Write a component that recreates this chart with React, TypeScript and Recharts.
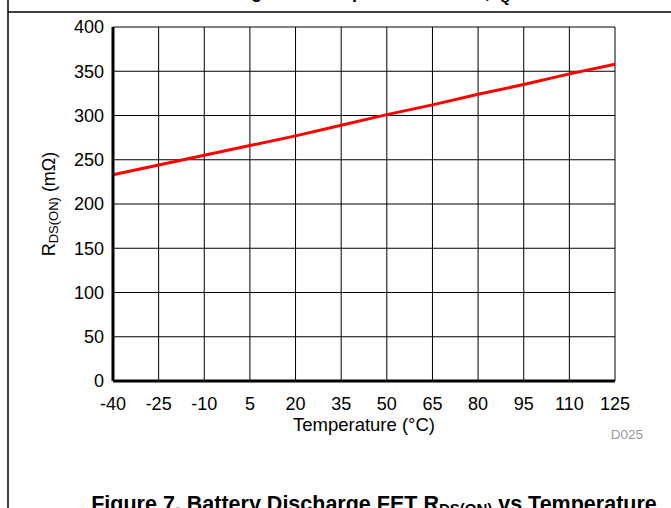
import React from 'react';
import { LineChart, Line, XAxis, YAxis, CartesianGrid } from 'recharts';

const temperatures = [-40, -25, -10, 5, 20, 35, 50, 65, 80, 95, 110, 125];
const rdsOn = [233, 244, 255, 266, 277, 289, 301, 312, 324, 335, 347, 358];
const xTicks = [-40, -25, -10, 5, 20, 35, 50, 65, 80, 95, 110, 125];
const yTicks = [0, 50, 100, 150, 200, 250, 300, 350, 400];

const data = temperatures.map((t, i) => ({ t, r: rdsOn[i] }));

const FONT = '"Liberation Sans", Arial, Helvetica, sans-serif';

const XLabel = (props: any) => {
  const vb = props.viewBox || {};
  const cx = vb.x + vb.width / 2;
  return (
    <g>
      <text x={cx} y={vb.y + 50} textAnchor="middle" fontSize={18.5} fill="#000" fontFamily={FONT}>
        Temperature (°C)
      </text>
      <text x={vb.x + vb.width + 12} y={vb.y + 58} textAnchor="middle" fontSize={13.5} fill="#999" fontFamily={FONT}>
        D025
      </text>
    </g>
  );
};

const YLabel = (props: any) => {
  const vb = props.viewBox || {};
  const cx = vb.x - 4;
  const cy = vb.y + vb.height / 2;
  return (
    <text
      x={cx}
      y={cy}
      textAnchor="middle"
      dominantBaseline="central"
      transform={`rotate(-90, ${cx}, ${cy})`}
      fontSize={18}
      fill="#000"
      fontFamily={FONT}
    >
      R<tspan fontSize={13} dy={4}>DS(ON)</tspan>
      <tspan dy={-4} fontSize={18}> (mΩ)</tspan>
    </text>
  );
};

export default function App() {
  return (
    <div style={{ position: 'absolute', left: 0, top: 0, width: 671, height: 508, overflow: 'hidden', fontFamily: FONT, background: '#fff' }}>
      <LineChart width={671} height={508} data={data} margin={{ top: 27, right: 56, bottom: 87, left: 53 }}>
        <CartesianGrid stroke="#000" strokeWidth={1} />
        <XAxis
          dataKey="t"
          type="number"
          domain={[-40, 125]}
          ticks={xTicks}
          interval={0}
          height={40}
          tickLine={false}
          tickMargin={10}
          tick={{ fontSize: 18, fill: '#000', fontFamily: FONT }}
          axisLine={{ stroke: '#000', strokeWidth: 3 }}
          label={<XLabel />}
        />
        <XAxis
          xAxisId="top"
          orientation="top"
          dataKey="t"
          type="number"
          domain={[-40, 125]}
          height={0}
          tick={false}
          tickLine={false}
          axisLine={{ stroke: '#333', strokeWidth: 2.5 }}
        />
        <YAxis
          type="number"
          domain={[0, 400]}
          ticks={yTicks}
          interval={0}
          width={60}
          tickLine={false}
          tickMargin={3}
          tick={{ fontSize: 18, fill: '#000', fontFamily: FONT }}
          axisLine={{ stroke: '#000', strokeWidth: 3 }}
          label={<YLabel />}
        />
        <YAxis
          yAxisId="right"
          orientation="right"
          type="number"
          domain={[0, 400]}
          width={0}
          tick={false}
          tickLine={false}
          axisLine={{ stroke: '#000', strokeWidth: 3 }}
        />
        <Line
          type="linear"
          dataKey="r"
          stroke="#ff0000"
          strokeWidth={3}
          dot={false}
          isAnimationActive={false}
        />
      </LineChart>
      <svg
        width={671}
        height={508}
        style={{ position: 'absolute', left: 0, top: 0, pointerEvents: 'none' }}
      >
        <line x1={8} y1={0} x2={8} y2={508} stroke="#000" strokeWidth={1.5} />
        <line x1={8} y1={12} x2={671} y2={12} stroke="#000" strokeWidth={1.5} />
        <text x={235} y={-2} fontSize={18} fontWeight="bold" fill="#000" fontFamily={FONT}>
          Figure 6. Sleep Mode Current, I<tspan fontSize={13} dy={4}>Q</tspan>
        </text>
        <text x={374} y={511} textAnchor="middle" fontSize={21.5} fontWeight="bold" fill="#000" fontFamily={FONT}>
          Figure 7. Battery Discharge FET R<tspan fontSize={15} dy={3}>DS(ON)</tspan>
          <tspan dy={-3}> vs Temperature</tspan>
        </text>
      </svg>
    </div>
  );
}
